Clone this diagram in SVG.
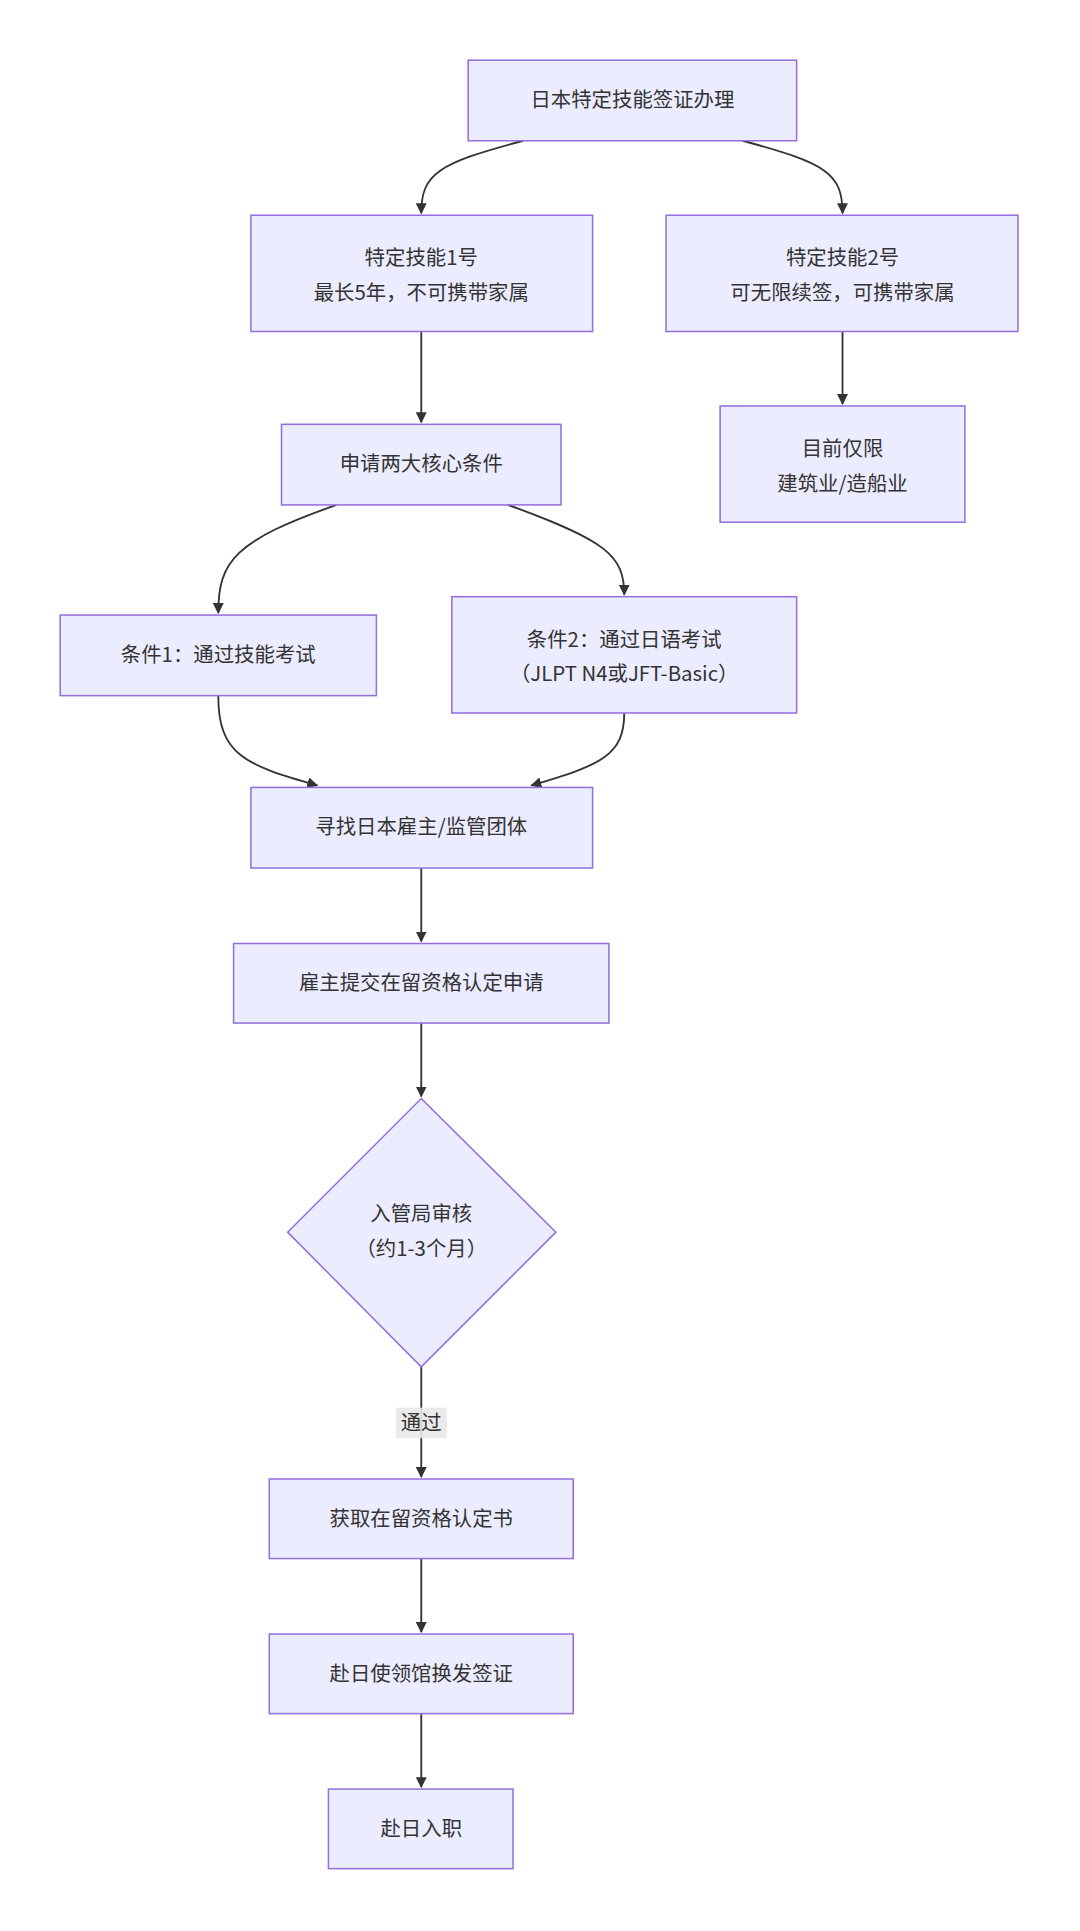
<svg xmlns="http://www.w3.org/2000/svg" width="1080" height="1931" viewBox="0 0 1080 1931">
<defs>
<style>
.n{fill:#ECECFF;stroke:#9370DB;stroke-width:1.5}
.t{font-family:"Noto Sans CJK SC","Noto Sans",sans-serif;font-size:20px;fill:#333;text-anchor:middle}
.e{fill:none;stroke:#333;stroke-width:1.8;marker-end:url(#a)}
</style>
<marker id="a" viewBox="0 0 10 10" refX="9" refY="5" markerWidth="6" markerHeight="6" orient="auto"><path d="M0,0L10,5L0,10z" fill="#333"/></marker>
</defs>
<rect width="1080" height="1931" fill="#fff"/>
<g transform="scale(1.02)">
<g id="edges">
<path class="e" d="M513,138 C430,160 413,170 413,209"/>
<path class="e" d="M728,138 C810,160 826,170 826,209"/>
<path class="e" d="M413,325 L413,414"/>
<path class="e" d="M826,325 L826,396"/>
<path class="e" d="M330,495 C230,530 214,550 214,601"/>
<path class="e" d="M498,495 C595,530 612,545 612,583"/>
<path class="e" d="M214,682 C214,740 240,750 311,770"/>
<path class="e" d="M612,699 C612,740 590,750 521,770"/>
<path class="e" d="M413,851 L413,923"/>
<path class="e" d="M413,1003 L413,1075"/>
<path class="e" d="M413,1340 L413,1448"/>
<path class="e" d="M413,1528 L413,1600"/>
<path class="e" d="M413,1680 L413,1752"/>
<rect x="388" y="1380" width="50" height="30" fill="#e8e8e8" opacity="0.9"/>
<text class="t" x="413" y="1402">通过</text>
</g>
<g id="n1"><rect class="n" x="459" y="59" width="322" height="79"/><text class="t" x="620" y="105">日本特定技能签证办理</text></g>
<g id="n2"><rect class="n" x="246" y="211" width="335" height="114"/><text class="t" x="413" y="260">特定技能1号</text><text class="t" x="413" y="294">最长5年，不可携带家属</text></g>
<g id="n3"><rect class="n" x="653" y="211" width="345" height="114"/><text class="t" x="826" y="260">特定技能2号</text><text class="t" x="826" y="294">可无限续签，可携带家属</text></g>
<g id="n4"><rect class="n" x="706" y="398" width="240" height="114"/><text class="t" x="826" y="447">目前仅限</text><text class="t" x="826" y="481">建筑业/造船业</text></g>
<g id="n5"><rect class="n" x="276" y="416" width="274" height="79"/><text class="t" x="413" y="462">申请两大核心条件</text></g>
<g id="n6"><rect class="n" x="59" y="603" width="310" height="79"/><text class="t" x="214" y="649">条件1：通过技能考试</text></g>
<g id="n7"><rect class="n" x="443" y="585" width="338" height="114"/><text class="t" x="612" y="634">条件2：通过日语考试</text><text class="t" x="612" y="668">（JLPT N4或JFT-Basic）</text></g>
<g id="n8"><rect class="n" x="246" y="772" width="335" height="79"/><text class="t" x="413" y="818">寻找日本雇主/监管团体</text></g>
<g id="n9"><rect class="n" x="229" y="925" width="368" height="78"/><text class="t" x="413" y="971">雇主提交在留资格认定申请</text></g>
<g id="n10"><path class="n" d="M413,1077 L545,1208 L413,1340 L282,1208 Z"/><text class="t" x="413" y="1197">入管局审核</text><text class="t" x="413" y="1231">（约1-3个月）</text></g>
<g id="n11"><rect class="n" x="264" y="1450" width="298" height="78"/><text class="t" x="413" y="1496">获取在留资格认定书</text></g>
<g id="n12"><rect class="n" x="264" y="1602" width="298" height="78"/><text class="t" x="413" y="1648">赴日使领馆换发签证</text></g>
<g id="n13"><rect class="n" x="322" y="1754" width="181" height="78"/><text class="t" x="413" y="1800">赴日入职</text></g>
</g>
</svg>
